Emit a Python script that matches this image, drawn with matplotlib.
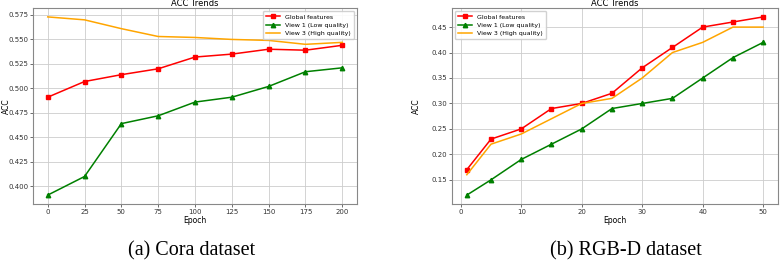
import matplotlib
matplotlib.use('Agg')
import matplotlib.pyplot as plt

# Cora dataset
cora_epochs = [0, 25, 50, 75, 100, 125, 150, 175, 200]
cora_global = [0.491, 0.507, 0.514, 0.520, 0.532, 0.535, 0.540, 0.539, 0.544]
cora_view1 = [0.391, 0.410, 0.464, 0.472, 0.486, 0.491, 0.502, 0.517, 0.521]
cora_view3 = [0.573, 0.570, 0.561, 0.553, 0.552, 0.550, 0.549, 0.545, 0.547]

# RGB-D dataset
rgbd_epochs = [1, 5, 10, 15, 20, 25, 30, 35, 40, 45, 50]
rgbd_global = [0.17, 0.23, 0.25, 0.29, 0.30, 0.32, 0.37, 0.41, 0.45, 0.46, 0.47]
rgbd_view1 = [0.12, 0.15, 0.19, 0.22, 0.25, 0.29, 0.30, 0.31, 0.35, 0.39, 0.42]
rgbd_view3 = [0.16, 0.22, 0.24, 0.27, 0.30, 0.31, 0.35, 0.40, 0.42, 0.45, 0.45]

labels = ['Global features', 'View 1 (Low quality)', 'View 3 (High quality)']
captions = ['(a) Cora dataset', '(b) RGB-D dataset']

W, H = 780, 263
fig = plt.figure(figsize=(W/100, H/100), dpi=100)

def panel(rect, x, g, v1, v3, legend_loc, xticks, ylab_x):
    ax = fig.add_axes(rect)
    ax.plot(x, g, color='red', marker='s', markersize=3.2, linewidth=1.1, label=labels[0])
    ax.plot(x, v1, color='green', marker='^', markersize=3.2, linewidth=1.1, label=labels[1])
    ax.plot(x, v3, color='orange', linewidth=1.1, label=labels[2])
    ax.grid(True, color='#cccccc', linewidth=0.6)
    ax.set_xticks(xticks)
    ax.tick_params(labelsize=5, length=2, width=0.5, pad=1.5, colors='#333333')
    for s in ax.spines.values():
        s.set_color('#888888')
        s.set_linewidth(0.8)
    ax.set_title('ACC Trends', fontsize=6, pad=1.5)
    ax.set_xlabel('Epoch', fontsize=5.5, labelpad=1)
    ax.set_ylabel('ACC', fontsize=5.5)
    ax.yaxis.set_label_coords(ylab_x, 0.5)
    ax.legend(loc=legend_loc, fontsize=4.5, handlelength=2.2, markerscale=1,
              borderpad=0.5, labelspacing=0.45, framealpha=0.9)
    return ax

panel([33/W, 1-204/H, 324/W, 196/H], cora_epochs, cora_global, cora_view1, cora_view3,
      'upper right', cora_epochs, -0.068)
panel([452/W, 1-204/H, 326/W, 196/H], rgbd_epochs, rgbd_global, rgbd_view1, rgbd_view3,
      'upper left', [0, 10, 20, 30, 40, 50], -0.095)

fig.text(192/W, 1-251/H, captions[0], ha='center', va='center',
         fontsize=14.5, family='Liberation Serif')
fig.text(626/W, 1-251/H, captions[1], ha='center', va='center',
         fontsize=14.5, family='Liberation Serif')

fig.savefig('out.png', dpi=100)
